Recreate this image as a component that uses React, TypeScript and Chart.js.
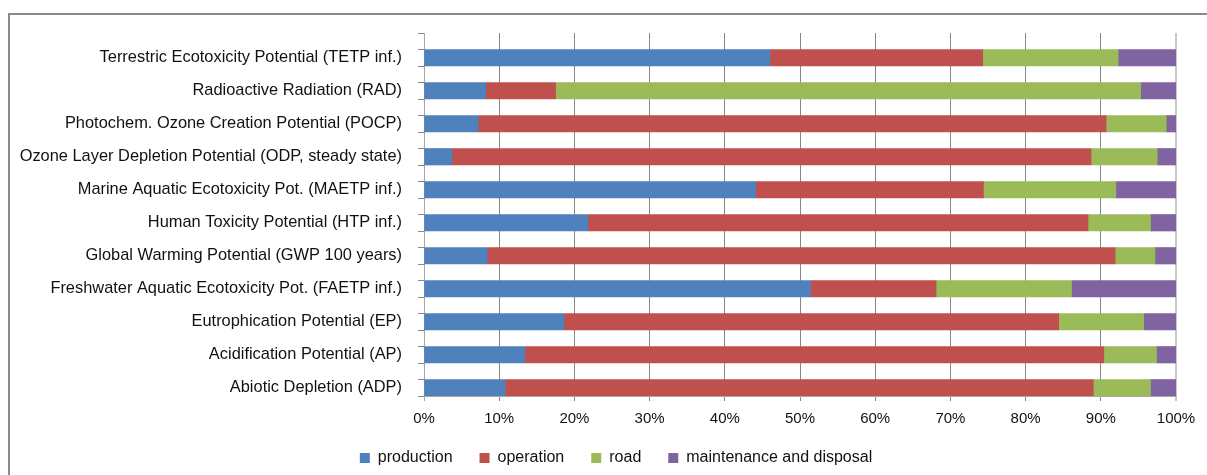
import { useEffect, useRef } from 'react';
import { Chart, registerables } from 'chart.js';

Chart.register(...registerables);

const categories = [
  'Terrestric Ecotoxicity Potential (TETP inf.)',
  'Radioactive Radiation (RAD)',
  'Photochem. Ozone Creation Potential (POCP)',
  'Ozone Layer Depletion Potential (ODP, steady state)',
  'Marine Aquatic Ecotoxicity Pot. (MAETP inf.)',
  'Human Toxicity Potential (HTP inf.)',
  'Global Warming Potential (GWP 100 years)',
  'Freshwater Aquatic Ecotoxicity Pot. (FAETP inf.)',
  'Eutrophication Potential (EP)',
  'Acidification Potential (AP)',
  'Abiotic Depletion (ADP)',
];

const production = [46.0, 8.2, 7.2, 3.7, 44.1, 21.8, 8.4, 51.4, 18.6, 13.4, 10.8];
const operation = [28.3, 9.3, 83.5, 85.0, 30.3, 66.5, 83.5, 16.7, 65.8, 77.0, 78.2];
const road = [18.0, 77.8, 8.0, 8.8, 17.6, 8.3, 5.3, 18.0, 11.3, 7.0, 7.6];
const maintenance = [7.7, 4.7, 1.3, 2.5, 8.0, 3.4, 2.8, 13.9, 4.3, 2.6, 3.4];

const seriesNames = ['production', 'operation', 'road', 'maintenance and disposal'];
const seriesColors = ['#4F81BD', '#C0504D', '#9BBB59', '#8064A2'];

const xMin = 0;
const xMax = 100;
const xStep = 10;

const FONT = "'Liberation Sans', Arial, sans-serif";

// Excel layout: a blank row precedes each category
const rowLabels = categories.flatMap((c) => ['', c]);
const spread = (arr: number[]) => arr.flatMap((v) => [null, v]);

const legendShift = {
  id: 'legendShift',
  afterLayout(chart: any) {
    const lg = chart.legend;
    if (!lg) return;
    lg.left += 28;
    lg.right += 28;
    lg.top -= 9;
    lg.bottom -= 9;
    if (typeof lg.adjustHitBoxes === 'function') lg.adjustHitBoxes();
  },
};

export default function App() {
  const ref = useRef<HTMLCanvasElement | null>(null);

  useEffect(() => {
    if (!ref.current) return;
    const values = [production, operation, road, maintenance];
    const chart = new Chart(ref.current, {
      type: 'bar',
      data: {
        labels: rowLabels,
        datasets: values.map((arr, i) => ({
          label: seriesNames[i],
          data: spread(arr),
          backgroundColor: seriesColors[i],
          borderWidth: 0,
          categoryPercentage: 1,
          barPercentage: 1,
        })),
      },
      plugins: [legendShift],
      options: {
        indexAxis: 'y',
        animation: false,
        responsive: false,
        maintainAspectRatio: false,
        layout: { padding: { left: 0, right: 31, top: 33, bottom: -10 } },
        scales: {
          x: {
            stacked: true,
            min: xMin,
            max: xMax,
            ticks: {
              stepSize: xStep,
              callback: (v: any) => v + '%',
              font: { family: FONT, size: 15 },
              color: '#111',
              padding: 9,
            },
            grid: {
              color: (ctx: any) => {
                const v = ctx.tick ? ctx.tick.value : 0;
                if (v === xMax) return '#c8c8c8';
                if (v === xMin) return '#a6a6a6';
                return '#868686';
              },
              lineWidth: (ctx: any) => (ctx.tick && ctx.tick.value === xMax ? 2 : 1),
              tickLength: 5,
            },
            border: { color: '#a6a6a6' },
            afterFit: (s: any) => {
              s.height = 36;
            },
          },
          y: {
            stacked: true,
            offset: true,
            ticks: {
              autoSkip: false,
              padding: 16,
              font: { family: FONT, size: 16.4 },
              color: '#111',
            },
            grid: {
              drawOnChartArea: false,
              tickLength: 6,
              color: '#888',
              offset: true,
            },
            border: { color: '#a6a6a6' },
            afterFit: (s: any) => {
              s.width = 424;
            },
          },
        },
        plugins: {
          legend: {
            position: 'bottom',
            labels: {
              boxWidth: 10,
              boxHeight: 10,
              padding: 27,
              font: { family: FONT, size: 16 },
              color: '#111',
            },
          },
          tooltip: { enabled: false },
        },
      },
    } as any);
    return () => chart.destroy();
  }, []);

  return (
    <div
      style={{
        position: 'absolute',
        left: 0,
        top: 0,
        width: 1207,
        height: 475,
        overflow: 'hidden',
        background: '#fff',
      }}
    >
      <div
        style={{
          position: 'absolute',
          left: 8,
          top: 13,
          width: 1300,
          height: 600,
          borderLeft: '2px solid #8c8c8c',
          borderTop: '2px solid #8c8c8c',
          boxSizing: 'border-box',
        }}
      />
      <canvas
        ref={ref}
        width={1207}
        height={475}
        style={{ position: 'absolute', left: 0, top: 0, width: 1207, height: 475 }}
      />
    </div>
  );
}
